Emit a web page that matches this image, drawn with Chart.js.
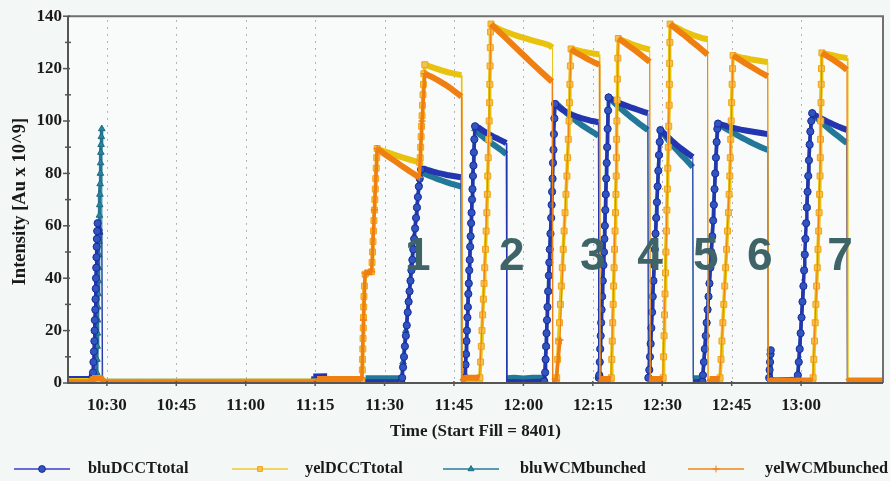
<!DOCTYPE html>
<html>
<head>
<meta charset="utf-8">
<script src="https://cdn.jsdelivr.net/npm/chart.js@4.4.1/dist/chart.umd.min.js"></script>
<style>
  html, body { margin: 0; padding: 0; background: #f3f7f6; }
  canvas { display: block; }
</style>
</head>
<body>
<canvas id="c" width="890" height="481"></canvas>
<script>
// Time axis: minutes after 10:00
const tickMinutes = [30, 45, 60, 75, 90, 105, 120, 135, 150, 165, 180];
const tickLabels = ['10:30', '10:45', '11:00', '11:15', '11:30', '11:45', '12:00', '12:15', '12:30', '12:45', '13:00'];

// Fill numbers written across the plot
const fillLabels = ['1', '2', '3', '4', '5', '6', '7'];
const fillLabelMinutes = [97.2, 117.5, 135.0, 147.35, 159.4, 171.1, 188.4];
const fillLabelLevel = 48;

// Series: [minutes after 10:00, intensity in Au x 10^9]
const bluDCCTtotal = [
  [21.6,1.5],[24.0,1.5],[26.5,1.6],[26.9,2.5],
  [27.0,4],[27.1,8],[27.2,12],[27.3,16],[27.35,20],[27.4,24],[27.5,28],[27.55,32],[27.6,36],[27.65,40],[27.7,44],[27.75,48],[27.8,52],[27.85,55],[27.9,58],[28.0,61],[28.9,56.5],
  [29.1,0.3],[45,0.3],[74.3,0.4],[74.6,2.5],[77.6,2.6],[78,0.3],[93.6,0.3],
  [93.8,2],[94.0,6],[94.2,10],[94.4,14],[94.6,18],[94.8,22],[95.0,27],[95.2,31],[95.4,35],[95.6,39],[95.8,43],[96.0,47],[96.2,51],[96.4,55],[96.6,59],[96.8,63],[97.0,67],[97.2,71],[97.4,75],[97.6,78],[97.9,81.5],
  [98.5,81.8],[99.5,81.2],[100.5,80.7],[101.5,80.2],[102.5,79.8],[103.5,79.4],[104.5,79.1],[105.5,78.8],[106.5,78.5],
  [106.7,0.8],[107.3,1],
  [107.4,2],[107.5,7],[107.6,11],[107.7,16],[107.8,20],[107.9,25],[108.0,29],[108.1,34],[108.2,38],[108.3,43],[108.4,47],[108.5,52],[108.6,56],[108.7,61],[108.8,65],[108.9,70],[109.0,74],[109.1,79],[109.2,83],[109.3,88],[109.4,93],[109.55,98],
  [110.5,97.3],[111.5,96.0],[112.5,95.0],[113.5,94.0],[114.5,93.2],[115.5,92.3],[116.3,91.6],
  [116.4,0.3],[118,0.4],[120,0.2],[122,0.4],[124.5,0.6],
  [124.7,4],[124.8,9],[124.9,14],[125.0,19],[125.1,24],[125.2,29],[125.35,35],[125.5,41],[125.6,46],[125.7,51],[125.85,57],[126.0,63],[126.1,68],[126.2,73],[126.3,78],[126.4,84],[126.5,89],[126.6,95],[126.7,101],[126.85,106.5],
  [127.5,105.5],[128.5,104.2],[129.5,103.2],[130.5,102.4],[131.5,101.7],[132.5,101.1],[133.5,100.6],[134.5,100.1],[135.5,99.8],[136.2,99.5],
  [136.3,2],
  [136.4,3],[136.5,8],[136.6,13],[136.7,18],[136.8,23],[136.9,28],[137.0,33],[137.15,39],[137.3,45],[137.4,50],[137.5,55],[137.6,60],[137.7,66],[137.8,72],[137.9,78],[138.0,84],[138.1,90],[138.2,97],[138.3,104],[138.4,109],
  [139.0,108.4],[140.0,107.5],[141.0,106.7],[142.0,106.0],[143.0,105.3],[144.0,104.7],[145.0,104.1],[146.0,103.5],[146.9,103.0],
  [147.0,2],
  [147.2,5],[147.35,10],[147.5,15],[147.65,21],[147.8,27],[147.95,33],[148.1,39],[148.25,45],[148.4,51],[148.55,57],[148.7,63],[148.85,69],[149.0,75],[149.15,81],[149.3,87],[149.45,92],[149.6,96.5],
  [150.3,95.5],[151.0,94.3],[152.0,92.6],[153.0,91.0],[154.0,89.6],[155.0,88.3],[156.0,87.0],[156.6,86.2],
  [156.7,0.3],[158.7,0.5],
  [158.8,3],[159.0,8],[159.2,13],[159.4,18],[159.6,23],[159.8,28],[160.0,33],[160.2,38],[160.4,44],[160.6,50],[160.8,56],[161.0,62],[161.15,68],[161.3,74],[161.45,80],[161.6,86],[161.75,92],[161.9,97],[162.05,99],
  [163,98.5],[164,98.0],[165,97.5],[166,97.1],[167,96.7],[168,96.4],[169,96.1],[170,95.8],[171,95.5],[172,95.2],[172.8,95.0],
  [172.9,1],[173.1,2],[173.2,5],[173.3,8],[173.4,11],[173.45,12.5],[173.55,1],[179.2,1.2],
  [179.3,3],[179.5,8],[179.7,13],[179.9,19],[180.1,25],[180.3,31],[180.5,37],[180.65,43],[180.8,49],[180.95,55],[181.1,61],[181.25,67],[181.4,73],[181.55,79],[181.7,85],[181.85,91],[182.0,96],[182.2,100],[182.4,103],
  [183,102.2],[184,101.3],[185,100.4],[186,99.5],[187,98.7],[188,97.9],[189,97.2],[189.9,96.6],
  [190.0,0.3],[197.7,0.3]
];

const yelDCCTtotal = [
  [21.6,0.8],[26.5,0.8],[26.8,1.8],[28.9,1.8],[29.3,0.5],[85.0,0.6],
  [85.1,1],[85.2,5],[85.25,9],[85.3,13],[85.35,17],[85.4,21],[85.45,25],[85.5,29],[85.55,33],[85.65,37],[85.8,41.5],[86.5,42],[87.2,42.5],
  [87.3,46],[87.4,50],[87.5,54],[87.6,58],[87.7,62],[87.8,66],[87.9,70],[88.0,74],[88.1,78],[88.2,82],[88.3,86],[88.4,89.5],
  [89,89.0],[90,88.4],[91,87.8],[92,87.2],[93,86.6],[94,86.0],[95,85.5],[96,85.0],[97,84.5],[97.6,84.2],
  [97.7,86],[97.8,90],[97.9,94],[98.0,98],[98.1,102],[98.2,106],[98.3,110],[98.4,114],[98.5,118],[98.7,121.5],
  [99.5,121.0],[100.5,120.4],[101.5,119.8],[102.5,119.2],[103.5,118.7],[104.5,118.3],[105.5,117.9],[106.6,117.5],
  [106.7,0.5],[110.5,0.8],
  [110.6,2],[110.75,8],[110.9,14],[111.05,20],[111.2,26],[111.35,32],[111.5,38],[111.65,44],[111.8,51],[111.95,58],[112.1,65],[112.2,72],[112.3,79],[112.4,86],[112.5,93],[112.6,100],[112.7,107],[112.75,114],[112.8,121],[112.85,128],[112.9,134],[113.0,137],
  [113.5,136.2],[114.5,135.3],[115.5,134.5],[116.5,133.8],[117.5,133.2],[118.5,132.6],[119.5,132.0],[120.5,131.5],[121.5,131.0],[122.5,130.5],[123.5,130.0],[124.5,129.5],[125.5,129.0],[126.3,128.0],
  [126.4,0.5],[127.1,0.8],
  [127.2,2],[127.4,9],[127.6,16],[127.8,23],[128.0,30],[128.2,37],[128.4,44],[128.6,51],[128.8,58],[129.0,65],[129.2,72],[129.4,79],[129.55,86],[129.7,93],[129.85,100],[129.95,107],[130.05,114],[130.15,121],[130.3,127.5],
  [131,127.2],[132,126.8],[133,126.4],[134,126.1],[135,125.8],[136.4,125.4],
  [136.5,0.5],[138.9,0.8],
  [139.0,2],[139.1,9],[139.2,16],[139.3,23],[139.4,30],[139.5,37],[139.6,44],[139.7,51],[139.8,58],[139.9,65],[140.0,72],[140.05,79],[140.1,86],[140.15,93],[140.2,100],[140.25,108],[140.3,116],[140.4,124],[140.5,131.5],
  [141.5,130.7],[142.5,130.0],[143.5,129.3],[144.5,128.7],[145.5,128.1],[146.5,127.6],[147.3,127.2],
  [147.4,0.5],[150.1,0.8],
  [150.2,2],[150.3,10],[150.4,18],[150.5,26],[150.6,34],[150.7,42],[150.8,50],[150.9,58],[151.0,66],[151.1,74],[151.2,82],[151.3,90],[151.4,98],[151.5,106],[151.55,114],[151.6,122],[151.65,130],[151.7,137],
  [152.5,136.2],[153.5,135.3],[154.5,134.4],[155.5,133.6],[156.5,132.9],[157.5,132.3],[158.5,131.7],[159.8,131.2],
  [159.9,0.5],[162.4,0.8],
  [162.5,2],[162.7,9],[162.9,16],[163.1,23],[163.3,30],[163.5,37],[163.7,44],[163.9,51],[164.1,58],[164.3,65],[164.45,72],[164.6,79],[164.7,86],[164.8,93],[164.9,100],[165.0,107],[165.1,114],[165.2,120],[165.3,125],
  [166,124.7],[167,124.3],[168,124.0],[169,123.6],[170,123.3],[171,123.0],[172,122.7],[172.8,122.5],
  [172.9,0.5],[182.5,0.8],
  [182.6,2],[182.75,9],[182.9,16],[183.05,23],[183.2,30],[183.35,37],[183.5,44],[183.65,51],[183.8,58],[183.9,65],[184.0,72],[184.1,79],[184.15,86],[184.2,93],[184.25,100],[184.3,107],[184.35,114],[184.4,120],[184.5,126],
  [185.5,125.6],[186.5,125.2],[187.5,124.8],[188.5,124.4],[190.0,124.0],
  [190.1,0.5],[197.7,0.5]
];

const bluWCMbunched = [
  [21.6,1.2],[26.8,1.2],[27.7,2],
  [27.8,4],[27.85,9],[27.9,14],[27.95,19],[28.0,24],[28.05,29],[28.1,34],[28.15,39],[28.2,44],[28.25,49],[28.3,54],[28.35,59],[28.4,64],[28.45,68],[28.5,72],[28.55,76],[28.6,80],[28.65,84],[28.7,88],[28.75,91],[28.8,94],[28.9,97],
  [28.95,0.5],[85.7,0.5],[85.9,1.8],[93.7,1.8],
  [94.0,8],[94.6,20],[95.2,32],[95.8,45],[96.4,56],[97.0,67],[97.5,76],[97.9,80.5],
  [98.5,80.0],[99.5,79.2],[100.5,78.5],[101.5,77.8],[102.5,77.2],[103.5,76.6],[104.5,76.0],[105.5,75.5],[106.5,75.0],
  [106.6,0.8],[107.3,1],
  [107.6,11],[108.0,29],[108.4,47],[108.8,65],[109.2,83],[109.55,97],
  [110.5,95.0],[111.5,93.6],[112.5,92.3],[113.5,91.0],[114.5,89.8],[115.5,88.5],[116.3,87.3],
  [116.4,1.8],[118,2.0],[120,1.7],[122,2.0],[124.5,2.0],
  [124.9,14],[125.35,35],[125.85,57],[126.3,78],[126.85,107],
  [127.5,106.0],[128.5,104.4],[129.5,102.8],[130.5,101.3],[131.5,99.9],[132.5,98.6],[133.5,97.4],[134.5,96.3],[135.5,95.2],[136.2,94.3],
  [136.3,2],
  [136.6,13],[137.0,33],[137.4,50],[137.8,72],[138.1,90],[138.4,109],
  [139.0,108.0],[140.0,106.4],[141.0,104.8],[142.0,103.3],[143.0,101.8],[144.0,100.4],[145.0,99.0],[146.0,97.7],[146.9,96.5],
  [147.0,2],
  [147.5,15],[148.1,39],[148.7,63],[149.3,87],[149.6,96.5],
  [150.3,95.0],[151.0,93.4],[152.0,91.2],[153.0,89.2],[154.0,87.3],[155.0,85.5],[156.0,83.6],[156.6,82.4],
  [156.7,1.8],[158.7,1.8],
  [159.2,13],[160.0,33],[160.8,56],[161.45,80],[162.05,99],
  [163,97.8],[164,96.8],[165,95.8],[166,94.8],[167,93.8],[168,92.9],[169,92.0],[170,91.1],[171,90.3],[172,89.5],[172.8,89.0],
  [172.9,0.5],[179.2,0.8],
  [179.7,13],[180.5,37],[181.25,67],[181.85,91],[182.4,103],
  [183,101.8],[184,100.2],[185,98.6],[186,97.0],[187,95.6],[188,94.2],[189,92.8],[189.9,91.6],
  [190.0,0.3],[197.7,0.3]
];

const yelWCMbunched = [
  [21.6,0.3],[26.3,0.3],[26.8,1.5],[28.8,1.8],[29.4,0.3],[75.0,0.3],[75.4,1.5],[85.0,1.5],
  [85.1,2],[85.45,24],[85.8,42],[87.2,42.5],[87.8,66],[88.4,89.5],
  [89.5,88.0],[91.0,86.2],[92.5,84.4],[94.0,82.5],[95.5,80.7],[97.5,78.5],
  [98.1,100],[98.7,118],
  [100.0,117.0],[101.5,115.6],[103.0,114.0],[104.5,112.2],[106.0,110.2],[106.6,109.3],
  [106.7,0.5],[107.4,2],[110.5,2],
  [111.5,38],[112.3,79],[113.0,137],
  [114,135.3],[116,132.0],[118,128.6],[120,125.2],[122,121.8],[124,118.5],[126.2,115.0],
  [126.3,0.5],[127.1,1],
  [127.9,16.4],[128.8,58],[129.7,93],[130.3,127.5],
  [131,126.5],[132.5,125.0],[134,123.5],[135.5,122.2],[136.4,121.5],
  [136.5,0.5],[136.7,1.5],[138.9,1.5],
  [139.5,37],[140.1,86],[140.5,131.5],
  [141.5,130.3],[143,128.4],[144.5,126.5],[146,124.4],[147.3,122.6],
  [147.4,0.5],[147.6,1.5],[150.1,1.5],
  [150.7,42],[151.3,90],[151.7,137],
  [153,135.2],[154.5,133.1],[156,130.9],[157.5,128.8],[159,126.5],[159.8,125.3],
  [159.9,0.5],[160.2,1.5],[162.4,1.5],
  [163.5,37],[164.6,79],[165.3,125],
  [166.5,123.7],[168,122.0],[169.5,120.4],[171,118.8],[172.8,117.0],
  [172.9,0.5],[173.3,1],[182.5,1],
  [183.5,44],[184.15,86],[184.5,126],
  [185.5,124.9],[187,123.3],[188.5,121.5],[189.9,119.5],
  [190.0,0.5],[190.3,1],[197.7,1]
];

const toPoints = rows => rows.map(([x, y]) => ({ x, y }));

// A short steep step belongs to an injection ramp; a long one is a beam dump.
const isRampStep = (a, b) => {
  const dv = Math.abs(b[1] - a[1]);
  return dv <= 25 && dv > 8 * Math.abs(b[0] - a[0]);
};

// Ramp segments: medium; dumps: hairline; decays and baselines: thick band.
const segmentWidth = ctx => {
  const dx = Math.abs(ctx.p1.x - ctx.p0.x);
  const dy = Math.abs(ctx.p1.y - ctx.p0.y);
  if (dy > dx * 1.5) return dy < 70 ? 3.5 : 1;
  return 6;
};

// Markers only along the injection ramps; the slow decays read as solid bands.
const rampMarkerRadius = (rows, r) => ctx => {
  const i = ctx.dataIndex;
  const prev = i > 0 && isRampStep(rows[i - 1], rows[i]);
  const next = i < rows.length - 1 && isRampStep(rows[i], rows[i + 1]);
  return prev || next ? r : 0;
};

const serif = 'Liberation Serif, Times New Roman, serif';

const series = [
  { label: 'bluDCCTtotal', data: bluDCCTtotal, line: '#2336b0', legendLine: '#3d3dcc', fill: '#2f55c0', edge: '#1c2a9a', style: 'circle', radius: 3.6, order: 2 },
  { label: 'yelDCCTtotal', data: yelDCCTtotal, line: '#e8c20c', legendLine: '#f0c838', fill: '#f6c14a', edge: '#eea51a', style: 'rect', radius: 4.2, order: 1 },
  { label: 'bluWCMbunched', data: bluWCMbunched, line: '#23789a', legendLine: '#2b7a9a', fill: '#2a86a0', edge: '#1d6a85', style: 'triangle', radius: 3.8, order: 3 },
  { label: 'yelWCMbunched', data: yelWCMbunched, line: '#f07f12', legendLine: '#f0871a', fill: '#f07f12', edge: '#f07f12', style: 'cross', radius: 3.5, order: 0 }
];

function drawMarker(ctx, s, x, y) {
  const r = Math.min(s.radius, 3.4);
  ctx.save();
  ctx.fillStyle = s.fill;
  ctx.strokeStyle = s.edge;
  ctx.lineWidth = 1;
  ctx.beginPath();
  if (s.style === 'circle') {
    ctx.arc(x, y, r, 0, Math.PI * 2);
    ctx.fill(); ctx.stroke();
  } else if (s.style === 'rect') {
    const h = r * Math.SQRT1_2;
    ctx.rect(x - h, y - h, 2 * h, 2 * h);
    ctx.fill(); ctx.stroke();
  } else if (s.style === 'triangle') {
    ctx.moveTo(x, y - r);
    ctx.lineTo(x + r * 0.87, y + r * 0.5);
    ctx.lineTo(x - r * 0.87, y + r * 0.5);
    ctx.closePath();
    ctx.fill(); ctx.stroke();
  } else {
    ctx.moveTo(x - r, y); ctx.lineTo(x + r, y);
    ctx.moveTo(x, y - r); ctx.lineTo(x, y + r);
    ctx.stroke();
  }
  ctx.restore();
}

const legendLineX = [14, 232, 443, 688];
const legendTextX = [88, 305, 520, 765];
const legendY = 469;

const decor = {
  id: 'decor',
  beforeDraw(chart) {
    const { ctx, chartArea: a } = chart;
    ctx.save();
    ctx.fillStyle = '#f3f7f6';
    ctx.fillRect(0, 0, chart.width, chart.height);
    ctx.fillStyle = '#f8fbfa';
    ctx.fillRect(a.left, a.top, a.right - a.left, a.bottom - a.top);
    ctx.restore();
  },
  beforeDatasetsDraw(chart) {
    const { ctx, chartArea: a, scales } = chart;
    ctx.save();
    ctx.strokeStyle = '#9c9c9c';
    ctx.lineWidth = 1;
    ctx.setLineDash([1.5, 5.5]);
    tickMinutes.forEach(m => {
      const x = Math.round(scales.x.getPixelForValue(m)) + 0.5;
      ctx.beginPath();
      ctx.moveTo(x, a.top + 4);
      ctx.lineTo(x, a.bottom);
      ctx.stroke();
    });
    ctx.restore();
  },
  afterDatasetsDraw(chart) {
    const { ctx, chartArea: a, scales } = chart;
    ctx.save();
    // frame
    ctx.strokeStyle = '#707070';
    ctx.lineWidth = 2;
    ctx.beginPath();
    ctx.moveTo(a.left, a.top); ctx.lineTo(a.right, a.top); ctx.lineTo(a.right, a.bottom);
    ctx.stroke();
    ctx.strokeStyle = '#555';
    ctx.beginPath();
    ctx.moveTo(a.left, a.top); ctx.lineTo(a.left, a.bottom); ctx.lineTo(a.right, a.bottom);
    ctx.stroke();
    // y ticks, major and minor
    ctx.lineWidth = 1.5;
    for (let v = 0; v <= 140; v += 10) {
      const y = scales.y.getPixelForValue(v);
      ctx.beginPath();
      if (v % 20 === 0) { ctx.moveTo(a.left - 5, y); ctx.lineTo(a.left + 2, y); }
      else { ctx.moveTo(a.left - 3, y); ctx.lineTo(a.left + 3, y); }
      ctx.stroke();
    }
    // x ticks
    tickMinutes.forEach(m => {
      const x = scales.x.getPixelForValue(m);
      ctx.beginPath();
      ctx.moveTo(x, a.bottom - 2); ctx.lineTo(x, a.bottom + 3);
      ctx.stroke();
    });
    // fill numbers
    ctx.fillStyle = '#3e6468';
    ctx.font = 'bold 46px "Liberation Sans", Arial, sans-serif';
    ctx.textAlign = 'center';
    ctx.textBaseline = 'middle';
    fillLabels.forEach((t, i) => {
      ctx.fillText(t, scales.x.getPixelForValue(fillLabelMinutes[i]), scales.y.getPixelForValue(fillLabelLevel));
    });
    // axis titles
    ctx.fillStyle = '#1a1a1a';
    ctx.font = 'bold 17px ' + serif;
    ctx.fillText('Time (Start Fill = 8401)', (a.left + a.right) / 2, 432);
    ctx.save();
    ctx.translate(20, (a.top + a.bottom) / 2 + 2);
    ctx.rotate(-Math.PI / 2);
    ctx.font = 'bold 18.5px ' + serif;
    ctx.fillText('Intensity [Au x 10^9]', 0, 0);
    ctx.restore();
    // legend
    ctx.textAlign = 'left';
    ctx.font = 'bold 16.3px ' + serif;
    series.forEach((s, i) => {
      const x0 = legendLineX[i];
      ctx.strokeStyle = s.legendLine;
      ctx.lineWidth = 1.5;
      ctx.beginPath();
      ctx.moveTo(x0, legendY); ctx.lineTo(x0 + 56, legendY);
      ctx.stroke();
      drawMarker(ctx, s, x0 + 28, legendY);
      ctx.fillStyle = '#1a1a1a';
      ctx.fillText(s.label, legendTextX[i], legendY);
    });
    ctx.restore();
  }
};

new Chart(document.getElementById('c'), {
  type: 'line',
  data: {
    datasets: series.map(s => ({
      label: s.label,
      data: toPoints(s.data),
      order: s.order,
      borderColor: s.line,
      backgroundColor: s.fill,
      borderWidth: 1.2,
      borderJoinStyle: 'round',
      pointStyle: s.style,
      pointRadius: rampMarkerRadius(s.data, s.radius),
      pointBackgroundColor: s.fill,
      pointBorderColor: s.edge,
      pointBorderWidth: s.style === 'cross' ? 1.5 : 1,
      tension: 0,
      fill: false,
      segment: { borderWidth: segmentWidth }
    }))
  },
  options: {
    responsive: false,
    animation: false,
    devicePixelRatio: 1,
    layout: { padding: { top: 16, right: 7, bottom: 0, left: 0 } },
    plugins: { legend: { display: false }, tooltip: { enabled: false } },
    scales: {
      x: {
        type: 'linear',
        min: 21.6,
        max: 197.7,
        afterBuildTicks: s => { s.ticks = tickMinutes.map(v => ({ value: v })); },
        afterFit: s => { s.height = 98; },
        grid: { display: false, drawTicks: false },
        border: { display: false },
        ticks: {
          autoSkip: false,
          maxRotation: 0,
          padding: 12,
          color: '#1a1a1a',
          font: { family: serif, weight: 'bold', size: 17 },
          callback: v => tickLabels[tickMinutes.indexOf(v)] ?? ''
        }
      },
      y: {
        min: 0,
        max: 140,
        afterFit: s => { s.width = 68; },
        grid: { display: false, drawTicks: false },
        border: { display: false },
        ticks: {
          stepSize: 20,
          padding: 6,
          color: '#1a1a1a',
          font: { family: serif, weight: 'bold', size: 17 }
        }
      }
    }
  },
  plugins: [decor]
});
</script>
</body>
</html>
